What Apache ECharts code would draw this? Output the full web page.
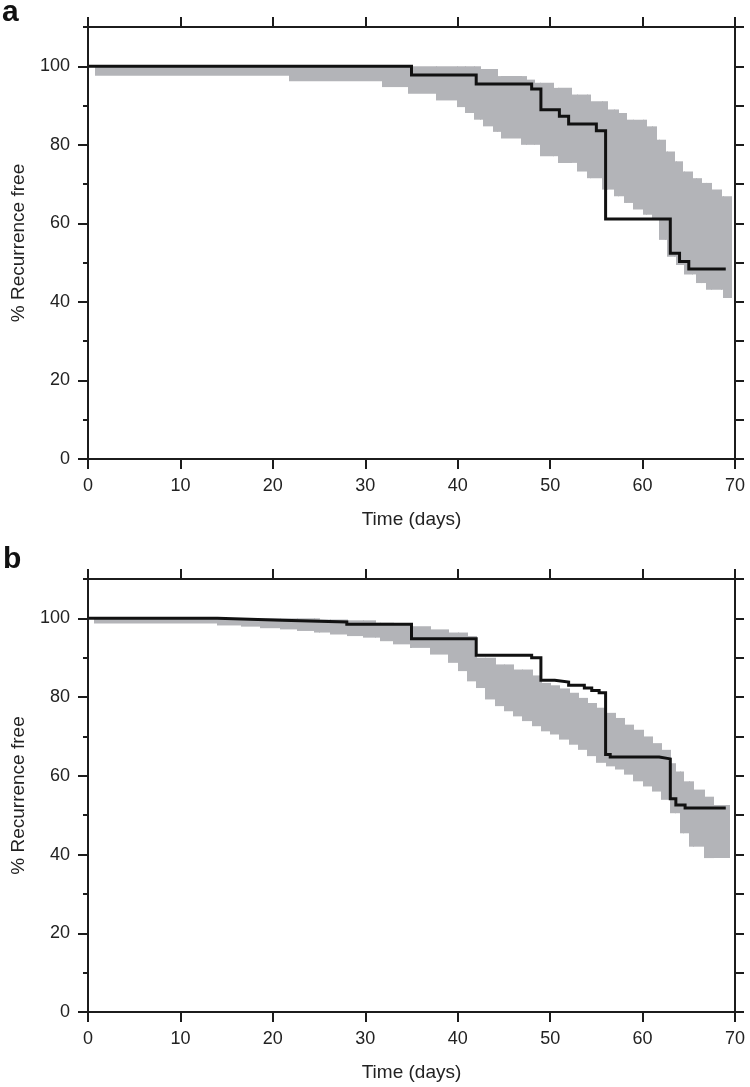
<!DOCTYPE html>
<html><head><meta charset="utf-8">
<script src="https://cdn.jsdelivr.net/npm/echarts@6/dist/echarts.min.js"></script>
<style>html,body{margin:0;padding:0;background:#fff}#c{width:750px;height:1087px}</style>
</head><body><div id="c"></div>
<script>
// ---- data ----
const xTickValues = [0,10,20,30,40,50,60,70];
const yLabelValues = [0,20,40,60,80,100];
const panelLabels = ['a','b'];
const xTitle = 'Time (days)';
const yTitle = '% Recurrence free';

// Panel a: Kaplan-Meier estimate [day, %] and confidence band bounds
const kmA = [[0,100],[35,97.8],[42,95.5],[48,94.2],[49,88.9],[51,87.3],[52,85.3],[55,83.6],[56,61.1],[63,52.4],[64,50.3],[65,48.4],[69,48.4]];
const upperA = [[0,100],[42.4,99.3],[44.3,97.5],[47.4,96.6],[48.3,95.8],[50.3,94.5],[52.3,92.8],[54.3,91.1],[56.2,89.0],[57.3,88.1],[58.2,86.4],[60.4,84.7],[61.5,81.3],[62.4,78.3],[63.4,75.8],[64.3,73.2],[65.4,71.5],[66.3,70.3],[67.4,68.6],[68.5,66.9],[69.6,66.9]];
const lowerA = [[0,100],[0.8,97.6],[21.8,96.2],[31.8,94.7],[34.6,93.0],[37.7,91.3],[39.9,89.6],[40.8,88.1],[41.8,86.4],[42.7,84.7],[43.8,83.3],[44.7,81.6],[46.9,80.0],[48.9,77.1],[50.9,75.4],[52.9,73.2],[54.0,71.5],[55.6,68.6],[56.9,66.9],[58.0,65.2],[59.0,63.5],[60.1,62.2],[61.0,61.2],[61.8,55.8],[62.6,51.5],[63.6,49.4],[64.5,47.0],[65.8,44.8],[66.9,43.1],[68.7,41.0],[69.6,41.0]];

// Panel b
const kmB = [[0,100],[14,99.5],[21,99.1],[28,98.5],[35,94.8],[42,90.6],[48,90.0],[49,84.3],[50.5,83.8],[52,83.0],[53.7,82.3],[54.5,81.7],[55.3,81.1],[56,65.4],[56.5,64.8],[61.8,64.3],[63,54.2],[63.6,52.6],[64.6,51.8],[69,51.8]];
const upperB = [[0,100],[25,99.7],[28,99.5],[31,98.9],[33,98.7],[35,98.0],[37,97.2],[39,96.4],[41,95.5],[42,90.0],[44,88.3],[46,87.0],[48,85.5],[49,83.6],[50,83.0],[51,82.2],[52,81.1],[53,79.8],[54,78.5],[55,77.3],[56,76.0],[57,74.7],[58,73.0],[59,71.7],[60,70.0],[61,68.3],[62,66.6],[63,63.2],[63.5,61.1],[64.4,58.6],[65.5,56.5],[66.6,54.7],[67.6,52.6],[69.4,52.6]];
const lowerB = [[0,100],[0.6,98.7],[14,98.2],[16.5,97.9],[18.6,97.5],[20.8,97.2],[22.6,96.8],[24.4,96.4],[26.2,95.9],[28,95.5],[29.8,95.1],[31.6,94.2],[33,93.4],[34.8,92.5],[37,90.8],[39,88.7],[40,86.6],[41,84.0],[42,82.3],[43,79.4],[44,77.7],[45,76.4],[46,75.1],[47,73.9],[48,72.6],[49,71.3],[50,70.5],[51,69.2],[52,67.9],[53,66.6],[54,65.0],[55,63.3],[56,62.4],[57,61.6],[58,60.3],[59,58.6],[60,57.3],[61,56.0],[62,53.9],[63,50.5],[64,45.4],[65,42.0],[66.7,39.1],[69.4,39.1]];

// ---- helpers ----
function stepAt(arr, t){ let v = arr[0][1]; for (const p of arr){ if (p[0] <= t) v = p[1]; else break; } return v; }
// one row per constant piece of the band: [tStart, tEnd, lower, upper]
function bandRows(lower, upper){
  const ts = Array.from(new Set(lower.map(p=>p[0]).concat(upper.map(p=>p[0])))).sort((a,b)=>a-b);
  const rows = [];
  for (let i = 0; i < ts.length - 1; i++){
    const lo = stepAt(lower, ts[i]), hi = stepAt(upper, ts[i]);
    if (hi > lo) rows.push([ts[i], ts[i+1], lo, hi]);
  }
  return rows;
}

const FONT = "'Liberation Sans', Arial, Helvetica, sans-serif";
const AX = '#1c1c1c';
const TXT = '#222';
const GRAY = '#b3b4b8';
const grids = [
  {left:88, right:15, top:27, height:432},
  {left:88, right:15, top:579, height:433}
];
const lineStyleAx = {color:AX, width:2};

function xAxes(gi){
  return [
    {gridIndex:gi, type:'value', position:'bottom', min:0, max:70, interval:10, z:5,
     name:xTitle, nameLocation:'middle', nameGap:51,
     nameTextStyle:{fontSize:19, color:TXT, fontFamily:FONT},
     axisLine:{onZero:false, lineStyle:lineStyleAx},
     axisTick:{length:10, lineStyle:{color:AX, width:2}},
     axisLabel:{fontSize:18, color:TXT, margin:18, fontFamily:FONT, customValues:xTickValues},
     splitLine:{show:false}},
    {gridIndex:gi, type:'value', position:'top', min:0, max:70, interval:10, z:5,
     axisLine:{onZero:false, lineStyle:lineStyleAx},
     axisTick:{length:10, lineStyle:{color:AX, width:2}},
     axisLabel:{show:false}, splitLine:{show:false}}
  ];
}
function yAxes(gi){
  return [
    {gridIndex:gi, type:'value', position:'left', min:0, max:110, interval:10, z:5,
     axisLine:{onZero:false, lineStyle:lineStyleAx},
     axisTick:{length:5, lineStyle:{color:AX, width:2}},
     axisLabel:{show:false}, splitLine:{show:false}},
    {gridIndex:gi, type:'value', position:'left', min:0, max:110, interval:10, z:5,
     name:yTitle, nameLocation:'middle', nameGap:60,
     nameTextStyle:{fontSize:19, color:TXT, fontFamily:FONT},
     axisLine:{onZero:false, lineStyle:lineStyleAx},
     axisTick:{length:10, customValues:yLabelValues, lineStyle:{color:AX, width:2}},
     axisLabel:{customValues:yLabelValues, fontSize:18, color:TXT, margin:18, fontFamily:FONT},
     splitLine:{show:false}},
    {gridIndex:gi, type:'value', position:'right', min:0, max:110, interval:10, z:5,
     axisLine:{onZero:false, lineStyle:lineStyleAx},
     axisTick:{length:9, lineStyle:{color:AX, width:2}},
     axisLabel:{show:false}, splitLine:{show:false}}
  ];
}

function renderBand(params, api){
  const p1 = api.coord([api.value(0), api.value(3)]);
  const p2 = api.coord([api.value(1), api.value(2)]);
  const x0 = Math.round(p1[0]), x1 = Math.round(p2[0]);
  return {type:'rect', shape:{x:x0, y:p1[1], width:x1 - x0 + 1, height:p2[1]-p1[1]},
          style:{fill:GRAY, opacity:1}};
}

function panelSeries(gi, km, lower, upper){
  const xi = gi*2, yi = gi*3;
  return [
    {type:'custom', xAxisIndex:xi, yAxisIndex:yi, data:bandRows(lower, upper),
     encode:{x:[0,1], y:[2,3]}, renderItem:renderBand, silent:true, z:2},
    {type:'line', xAxisIndex:xi, yAxisIndex:yi, data:km, step:'end', symbol:'none', silent:true,
     lineStyle:{color:'#111', width:3, join:'miter'}, z:3}
  ];
}

const chart = echarts.init(document.getElementById('c'), null, {renderer:'canvas'});
chart.setOption({
  animation:false,
  backgroundColor:'#fff',
  grid:grids,
  xAxis: xAxes(0).concat(xAxes(1)),
  yAxis: yAxes(0).concat(yAxes(1)),
  series: panelSeries(0, kmA, lowerA, upperA).concat(panelSeries(1, kmB, lowerB, upperB)),
  graphic:[
    {type:'text', left:2, top:-2, style:{text:panelLabels[0], fontSize:30, fontWeight:'bold', fontFamily:FONT, fill:'#111'}},
    {type:'text', left:3, top:545, style:{text:panelLabels[1], fontSize:30, fontWeight:'bold', fontFamily:FONT, fill:'#111'}}
  ]
});
</script></body></html>
